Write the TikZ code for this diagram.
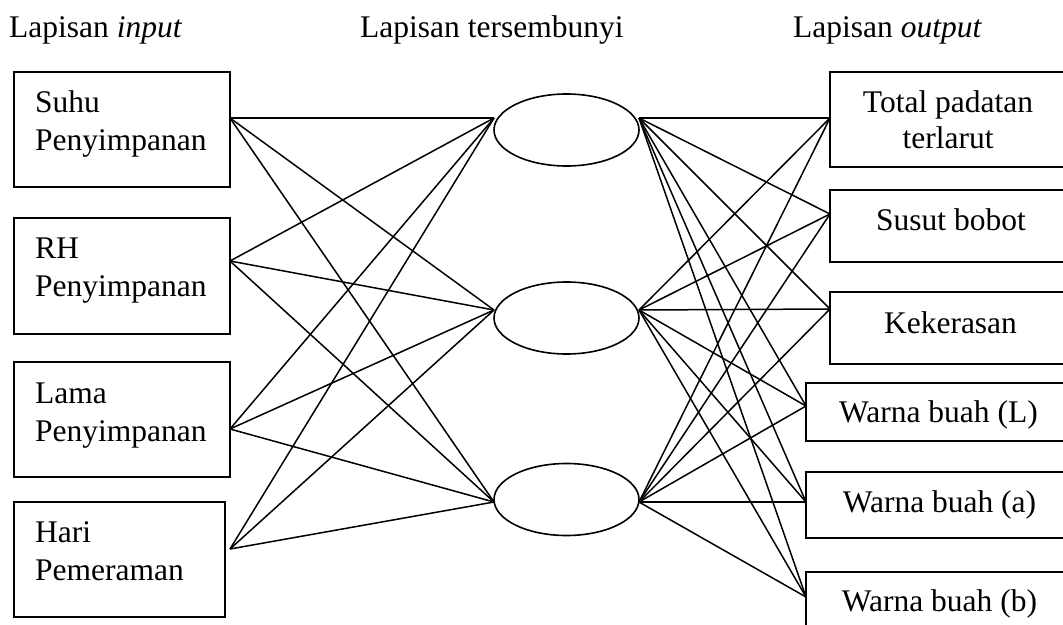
\documentclass[tikz,border=0pt]{standalone}
\usepackage{fontspec}
\setmainfont{Liberation Serif}
\usetikzlibrary{shapes.geometric}
\begin{document}
\begin{tikzpicture}[x=1pt,y=-1pt,
  every node/.style={font=\fontsize{31.5}{38}\selectfont},
  box/.style={draw, line width=1.6pt, rectangle, inner sep=0pt},
  hid/.style={draw, line width=1.6pt, ellipse, inner sep=0pt, minimum width=145pt, minimum height=72pt},
  lbl/.style={inner sep=0pt, anchor=base west},
  clbl/.style={inner sep=0pt, anchor=base},
  conn/.style={line width=1.5pt}]
\useasboundingbox (0,0) rectangle (1063,624);
\clip (0,0) rectangle (1063,624);
% headers
\node[lbl] (h1) at (9,37) {Lapisan \textit{input}};
\node[lbl] (h2) at (360,37) {Lapisan tersembunyi};
\node[lbl] (h3) at (793,37) {Lapisan \textit{output}};
% input boxes
\node[box, minimum width=216pt, minimum height=115pt] (i1) at (122,129.5) {};
\node[box, minimum width=216pt, minimum height=116pt] (i2) at (122,276) {};
\node[box, minimum width=216pt, minimum height=115pt] (i3) at (122,419.5) {};
\node[box, minimum width=211pt, minimum height=115pt] (i4) at (119.5,559.5) {};
\node[lbl] (t1a) at (35,112) {Suhu};
\node[lbl] (t1b) at (35,150) {Penyimpanan};
\node[lbl] (t2a) at (35,258) {RH};
\node[lbl] (t2b) at (35,296) {Penyimpanan};
\node[lbl] (t3a) at (35,403) {Lama};
\node[lbl] (t3b) at (35,441) {Penyimpanan};
\node[lbl] (t4a) at (35,542) {Hari};
\node[lbl] (t4b) at (35,580) {Pemeraman};
% hidden
\node[hid] (e1) at (566.5,130) {};
\node[hid] (e2) at (566.5,318) {};
\node[hid] (e3) at (566.5,499.5) {};
% output boxes
\node[box, minimum width=260pt, minimum height=95pt] (o1) at (960,119.5) {};
\node[box, minimum width=260pt, minimum height=72pt] (o2) at (960,226) {};
\node[box, minimum width=260pt, minimum height=72pt] (o3) at (960,328) {};
\node[box, minimum width=284pt, minimum height=58pt] (o4) at (948,412) {};
\node[box, minimum width=284pt, minimum height=66pt] (o5) at (948,505) {};
\node[box, minimum width=284pt, minimum height=78pt] (o6) at (948,611) {};
\node[clbl] (u1a) at (948,112) {Total padatan};
\node[clbl] (u1b) at (948,148) {terlarut};
\node[clbl] (u2) at (951,230) {Susut bobot};
\node[clbl] (u3) at (950.5,333) {Kekerasan};
\node[clbl] (u4) at (938.5,422) {Warna buah (L)};
\node[clbl] (u5) at (939.5,512) {Warna buah (a)};
\node[clbl] (u6) at (939.5,611) {Warna buah (b)};
% connection points
\coordinate (pi1) at (230,118);
\coordinate (pi2) at (230,261);
\coordinate (pi3) at (230,429);
\coordinate (pi4) at (230,549);
\coordinate (pl1) at (494,118);
\coordinate (pl2) at (494,310);
\coordinate (pl3) at (494,502);
\coordinate (pr1) at (639,118);
\coordinate (pr2) at (639,310);
\coordinate (pr3) at (639,502);
\coordinate (po1) at (830,118);
\coordinate (po2) at (830,214);
\coordinate (po3) at (830,309);
\coordinate (po4) at (806,406);
\coordinate (po5) at (806,502);
\coordinate (po6) at (806,597);
\foreach \a in {1,2,3,4}{
  \foreach \b in {1,2,3}{
    \draw[conn] (pi\a) -- (pl\b);
  }
}
\foreach \a in {1,2,3}{
  \foreach \b in {1,2,3,4,5,6}{
    \draw[conn] (pr\a) -- (po\b);
  }
}
\end{tikzpicture}
\end{document}
